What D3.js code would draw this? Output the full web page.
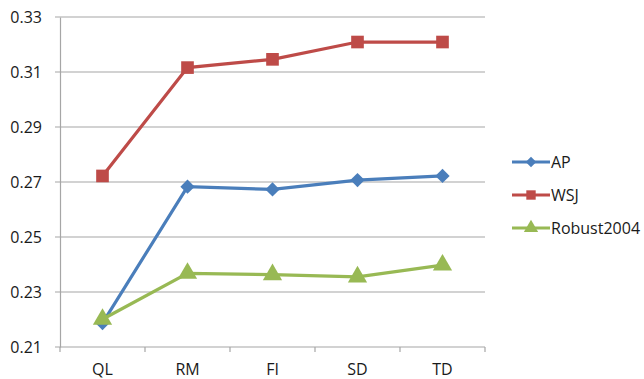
<!DOCTYPE html>
<html><head><meta charset="utf-8">
<script src="https://cdn.jsdelivr.net/npm/d3@7"></script>
<style>body{margin:0;background:#fff}svg{display:block}text{font-family:"Open Sans",sans-serif;fill:#1a1a1a}</style>
</head><body>
<script>
const categories = ["QL","RM","FI","SD","TD"];
const apValues = [0.2187,0.2683,0.2673,0.2707,0.2722];
const wsjValues = [0.2722,0.3116,0.3146,0.3209,0.3209];
const robustValues = [0.2201,0.2368,0.2363,0.2355,0.2398];
const yTicks = [0.21,0.23,0.25,0.27,0.29,0.31,0.33];
const seriesNames = ["AP","WSJ","Robust2004"];
const colors = ["#4a7ebb","#be4b48","#98b954"];
const symbols = [d3.symbolDiamond2, d3.symbolSquare, d3.symbolTriangle];
const symSizes = [130,160,160];

(function(){
const W=644,H=379, mLeft=60, mRight=485, mTop=17, mBottom=347;
const svg=d3.select("body").append("svg").attr("width",W).attr("height",H);
const x=d3.scaleBand().domain(categories).range([mLeft,mRight]);
const y=d3.scaleLinear().domain([0.21,0.33]).range([mBottom,mTop]);

svg.append("g").selectAll("line").data(yTicks).join("line")
 .attr("x1",mLeft-5).attr("x2",mRight).attr("y1",d=>y(d)).attr("y2",d=>y(d))
 .attr("stroke","#a6a6a6").attr("stroke-width",1.2);
const ya=svg.append("g").attr("transform",`translate(${mLeft},0)`)
 .call(d3.axisLeft(y).tickValues(yTicks).tickFormat(d3.format(".2f")).tickSize(0).tickPadding(18));
ya.select(".domain").attr("stroke","#a6a6a6").attr("stroke-width",1.2);
ya.selectAll("text").attr("font-size",16).attr("fill","#1a1a1a");
const xa=svg.append("g").attr("transform",`translate(0,${mBottom})`)
 .call(d3.axisBottom(x).tickSize(0).tickPadding(17));
xa.select(".domain").remove();
xa.selectAll("text").attr("font-size",16).attr("fill","#1a1a1a");
svg.append("g").selectAll("line").data(d3.range(categories.length+1)).join("line")
 .attr("x1",i=>mLeft+i*x.step()).attr("x2",i=>mLeft+i*x.step()).attr("y1",mBottom).attr("y2",mBottom+5)
 .attr("stroke","#a6a6a6").attr("stroke-width",1.2);

const data=[apValues,wsjValues,robustValues];
const line=d3.line().x((d,i)=>x(categories[i])+x.bandwidth()/2).y(d=>y(d));
[1,0,2].forEach(s=>{
  const g=svg.append("g");
  g.append("path").attr("d",line(data[s])).attr("fill","none").attr("stroke",colors[s]).attr("stroke-width",3.2);
  g.selectAll("path.m").data(data[s]).join("path").attr("class","m")
   .attr("transform",(d,i)=>`translate(${x(categories[i])+x.bandwidth()/2},${y(d)})`)
   .attr("d",d3.symbol().type(symbols[s]).size(symSizes[s])).attr("fill",colors[s]);
});

const lg=svg.append("g");
seriesNames.forEach((n,i)=>{
  const ly=162+i*33;
  lg.append("line").attr("x1",512).attr("x2",550).attr("y1",ly).attr("y2",ly).attr("stroke",colors[i]).attr("stroke-width",3.2);
  lg.append("path").attr("transform",`translate(531,${ly})`).attr("d",d3.symbol().type(symbols[i]).size(symSizes[i]*0.55)).attr("fill",colors[i]);
  lg.append("text").attr("x",551).attr("y",ly).attr("dy","0.35em").attr("font-size",16).text(n);
});
})();
</script>
</body></html>
